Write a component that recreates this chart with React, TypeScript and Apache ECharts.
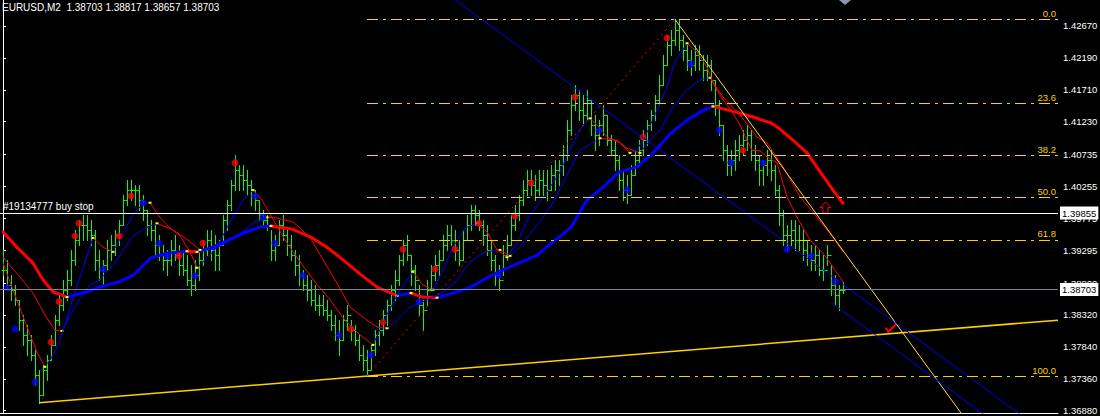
import React, { useEffect, useRef } from "react";
import * as echarts from "echarts";

const titleText = "EURUSD,M2  1.38703 1.38817 1.38657 1.38703";
const priceTicks = [1.4267, 1.4219, 1.4171, 1.4123, 1.40735, 1.40255, 1.39775, 1.39295, 1.388, 1.3832, 1.3784, 1.3736, 1.3688];

// OHLC bars (M2), index 0..210; open of a bar = close of previous bar
const highs = [
  1.3930, 1.3915, 1.3892, 1.3877, 1.3855, 1.3832, 1.3817, 1.3802, 1.3779, 1.3749,
  1.3757, 1.3772, 1.3802, 1.3832, 1.3862, 1.3885, 1.3900, 1.3930, 1.3960, 1.3975,
  1.3982, 1.3982, 1.3975, 1.3960, 1.3930, 1.3915, 1.3945, 1.3952, 1.3960, 1.3975,
  1.4013, 1.4035, 1.4035, 1.4028, 1.4028, 1.4013, 1.3990, 1.3975, 1.3967, 1.3952,
  1.3937, 1.3930, 1.3945, 1.3952, 1.3937, 1.3930, 1.3922, 1.3907, 1.3915, 1.3930,
  1.3945, 1.3960, 1.3960, 1.3952, 1.3945, 1.3982, 1.4005, 1.4035, 1.4073, 1.4058,
  1.4058, 1.4050, 1.4035, 1.4020, 1.4005, 1.3990, 1.3982, 1.3960, 1.3952, 1.3975,
  1.3982, 1.3960, 1.3952, 1.3930, 1.3922, 1.3900, 1.3892, 1.3885, 1.3877, 1.3862,
  1.3862, 1.3855, 1.3839, 1.3832, 1.3824, 1.3832, 1.3847, 1.3824, 1.3817, 1.3802,
  1.3787, 1.3779, 1.3787, 1.3809, 1.3824, 1.3839, 1.3855, 1.3877, 1.3900, 1.3922,
  1.3945, 1.3952, 1.3922, 1.3907, 1.3877, 1.3855, 1.3885, 1.3907, 1.3922, 1.3930,
  1.3952, 1.3967, 1.3967, 1.3960, 1.3945, 1.3960, 1.3982, 1.3998, 1.3998, 1.3990,
  1.3975, 1.3967, 1.3945, 1.3922, 1.3907, 1.3937, 1.3952, 1.3982, 1.3998, 1.4013,
  1.4035, 1.4050, 1.4050, 1.4043, 1.4050, 1.4050, 1.4050, 1.4058, 1.4065, 1.4065,
  1.4088, 1.4125, 1.4163, 1.4178, 1.4171, 1.4163, 1.4171, 1.4156, 1.4133, 1.4125,
  1.4148, 1.4133, 1.4103, 1.4095, 1.4073, 1.4050, 1.4043, 1.4058, 1.4080, 1.4095,
  1.4110, 1.4125, 1.4140, 1.4163, 1.4193, 1.4223, 1.4253, 1.4261, 1.4277, 1.4276,
  1.4253, 1.4238, 1.4231, 1.4238, 1.4238, 1.4223, 1.4223, 1.4216, 1.4186, 1.4156,
  1.4118, 1.4088, 1.4080, 1.4095, 1.4103, 1.4110, 1.4118, 1.4110, 1.4088, 1.4073,
  1.4065, 1.4080, 1.4080, 1.4058, 1.4028, 1.3990, 1.3967, 1.3975, 1.3975, 1.3967,
  1.3960, 1.3945, 1.3937, 1.3937, 1.3930, 1.3922, 1.3937, 1.3907, 1.3892, 1.3877,
  1.38817,
];
const lows = [
  1.3892, 1.3870, 1.3855, 1.3847, 1.3809, 1.3787, 1.3772, 1.3764, 1.3727, 1.3700,
  1.3712, 1.3734, 1.3764, 1.3787, 1.3817, 1.3839, 1.3855, 1.3877, 1.3907, 1.3937,
  1.3945, 1.3945, 1.3937, 1.3900, 1.3885, 1.3877, 1.3900, 1.3915, 1.3922, 1.3937,
  1.3967, 1.3998, 1.4005, 1.3998, 1.3990, 1.3975, 1.3952, 1.3945, 1.3922, 1.3915,
  1.3900, 1.3892, 1.3907, 1.3915, 1.3892, 1.3892, 1.3877, 1.3862, 1.3870, 1.3885,
  1.3907, 1.3922, 1.3915, 1.3900, 1.3900, 1.3937, 1.3960, 1.3990, 1.4020, 1.4020,
  1.4020, 1.4013, 1.3998, 1.3990, 1.3975, 1.3967, 1.3960, 1.3915, 1.3915, 1.3937,
  1.3945, 1.3922, 1.3915, 1.3892, 1.3877, 1.3870, 1.3855, 1.3847, 1.3839, 1.3832,
  1.3832, 1.3824, 1.3809, 1.3794, 1.3772, 1.3794, 1.3809, 1.3794, 1.3787, 1.3764,
  1.3749, 1.3740, 1.3749, 1.3772, 1.3787, 1.3802, 1.3817, 1.3839, 1.3855, 1.3877,
  1.3907, 1.3915, 1.3877, 1.3870, 1.3832, 1.3809, 1.3847, 1.3870, 1.3885, 1.3892,
  1.3915, 1.3930, 1.3937, 1.3915, 1.3907, 1.3915, 1.3945, 1.3960, 1.3967, 1.3960,
  1.3937, 1.3922, 1.3900, 1.3877, 1.3870, 1.3892, 1.3915, 1.3937, 1.3960, 1.3975,
  1.3998, 1.4013, 1.4013, 1.4005, 1.4013, 1.4013, 1.4005, 1.4020, 1.4020, 1.4028,
  1.4043, 1.4065, 1.4103, 1.4140, 1.4125, 1.4118, 1.4125, 1.4103, 1.4080, 1.4088,
  1.4103, 1.4088, 1.4073, 1.4050, 1.4020, 1.4005, 1.4001, 1.4013, 1.4043, 1.4058,
  1.4073, 1.4088, 1.4110, 1.4125, 1.4148, 1.4178, 1.4208, 1.4223, 1.4238, 1.4231,
  1.4216, 1.4201, 1.4193, 1.4201, 1.4201, 1.4186, 1.4186, 1.4171, 1.4133, 1.4103,
  1.4065, 1.4043, 1.4043, 1.4050, 1.4065, 1.4073, 1.4080, 1.4065, 1.4050, 1.4028,
  1.4028, 1.4043, 1.4035, 1.4013, 1.3967, 1.3937, 1.3930, 1.3937, 1.3930, 1.3930,
  1.3915, 1.3907, 1.3900, 1.3900, 1.3892, 1.3885, 1.3907, 1.3862, 1.3847, 1.3839,
  1.38657,
];
const closes = [
  1.3900, 1.3877, 1.3870, 1.3855, 1.3824, 1.3802, 1.3794, 1.3772, 1.3742, 1.3712,
  1.3749, 1.3764, 1.3787, 1.3824, 1.3847, 1.3870, 1.3885, 1.3915, 1.3945, 1.3967,
  1.3967, 1.3960, 1.3952, 1.3915, 1.3900, 1.3907, 1.3930, 1.3937, 1.3952, 1.3967,
  1.4005, 1.4020, 1.4020, 1.4020, 1.4005, 1.3990, 1.3967, 1.3960, 1.3937, 1.3922,
  1.3915, 1.3915, 1.3930, 1.3922, 1.3907, 1.3900, 1.3885, 1.3877, 1.3892, 1.3915,
  1.3930, 1.3945, 1.3930, 1.3922, 1.3937, 1.3975, 1.3998, 1.4028, 1.4050, 1.4043,
  1.4035, 1.4028, 1.4013, 1.4005, 1.3982, 1.3975, 1.3967, 1.3930, 1.3937, 1.3967,
  1.3952, 1.3937, 1.3922, 1.3907, 1.3892, 1.3877, 1.3870, 1.3855, 1.3847, 1.3847,
  1.3839, 1.3832, 1.3817, 1.3802, 1.3794, 1.3824, 1.3832, 1.3809, 1.3794, 1.3772,
  1.3764, 1.3749, 1.3779, 1.3802, 1.3809, 1.3832, 1.3847, 1.3870, 1.3885, 1.3915,
  1.3937, 1.3922, 1.3900, 1.3885, 1.3847, 1.3839, 1.3870, 1.3892, 1.3907, 1.3915,
  1.3937, 1.3952, 1.3945, 1.3930, 1.3915, 1.3945, 1.3967, 1.3990, 1.3982, 1.3967,
  1.3952, 1.3930, 1.3915, 1.3892, 1.3885, 1.3922, 1.3937, 1.3967, 1.3982, 1.4005,
  1.4020, 1.4035, 1.4028, 1.4020, 1.4035, 1.4028, 1.4020, 1.4043, 1.4050, 1.4058,
  1.4073, 1.4110, 1.4148, 1.4163, 1.4140, 1.4133, 1.4156, 1.4118, 1.4103, 1.4118,
  1.4133, 1.4095, 1.4080, 1.4065, 1.4035, 1.4020, 1.4013, 1.4043, 1.4065, 1.4080,
  1.4095, 1.4118, 1.4133, 1.4156, 1.4178, 1.4208, 1.4238, 1.4246, 1.4261, 1.4246,
  1.4231, 1.4216, 1.4208, 1.4223, 1.4216, 1.4201, 1.4208, 1.4186, 1.4148, 1.4118,
  1.4080, 1.4058, 1.4065, 1.4080, 1.4088, 1.4095, 1.4103, 1.4080, 1.4065, 1.4050,
  1.4058, 1.4065, 1.4050, 1.4020, 1.3982, 1.3952, 1.3952, 1.3960, 1.3945, 1.3945,
  1.3930, 1.3922, 1.3915, 1.3922, 1.3900, 1.3900, 1.3922, 1.3877, 1.3862, 1.3870,
  1.38703,
];

// Moving averages [barIndex, price] (red when falling, blue when rising)
const slowMA = [
  [0, 1.3957], [3.5, 1.3934], [7.5, 1.3910], [10, 1.3885], [12.5, 1.3867], [16, 1.3859],
  [21, 1.3867], [24, 1.3874], [29, 1.3882], [32.5, 1.3892], [37, 1.3918], [41, 1.3925],
  [46, 1.3928], [48.5, 1.3927], [52.5, 1.3934], [60, 1.3955], [64, 1.3964], [67, 1.3966],
  [72.5, 1.3961], [77, 1.3949], [81, 1.3934], [85, 1.3915], [89, 1.3895], [93.5, 1.3874],
  [98.5, 1.3861], [102, 1.3865], [105, 1.3859], [108.5, 1.3858], [112.5, 1.3865], [117, 1.3874],
  [121, 1.3888], [125, 1.3900], [129, 1.3910], [133.5, 1.3922], [137.5, 1.3942], [142, 1.3964],
  [146, 1.4005], [150, 1.4024], [154, 1.4047], [158.5, 1.4055], [162.5, 1.4076], [167, 1.4106],
  [171, 1.4125], [175, 1.4140], [177.5, 1.4146], [183.5, 1.4137], [187.5, 1.4130], [192, 1.4121],
  [194, 1.4113], [197.5, 1.4095], [201, 1.4076], [204, 1.4050], [207.5, 1.4020], [210, 1.4000],
];
const midMA = [
  [0, 1.3919], [4.25, 1.3889], [7.5, 1.3865], [10.5, 1.3832], [13, 1.3809], [14.75, 1.3808],
  [18.5, 1.3850], [21.75, 1.3877], [24.25, 1.3885], [28.5, 1.3915], [32.5, 1.3951], [36, 1.3964],
  [38.5, 1.3970], [42.5, 1.3960], [46, 1.3946], [49.25, 1.3930], [52.5, 1.3931], [55.5, 1.3939],
  [59.25, 1.3955], [63, 1.3972], [66, 1.3979], [68.5, 1.3978], [72.5, 1.3972], [76.75, 1.3949],
  [80, 1.3915], [83.5, 1.3880], [86.75, 1.3844], [91, 1.3824], [93.5, 1.3814], [96, 1.3812],
  [98, 1.3821], [101.75, 1.3844], [105.5, 1.3853], [109.25, 1.3864], [113, 1.3880], [116.75, 1.3912],
  [120.5, 1.3927], [124.25, 1.3930], [126.75, 1.3921], [129.25, 1.3934], [133.5, 1.3967], [137.5, 1.4001],
  [141, 1.4043], [144.25, 1.4080], [149.25, 1.4098], [153.5, 1.4095], [156, 1.4083], [159.25, 1.4076],
  [161.75, 1.4095], [164.25, 1.4110], [167.5, 1.4145], [171, 1.4171], [174.25, 1.4186], [176.75, 1.4189],
  [180, 1.4160], [184.25, 1.4133], [188.5, 1.4100], [191, 1.4091], [195, 1.4055], [199.25, 1.4010],
  [203.5, 1.3979], [207.5, 1.3949], [210, 1.3927],
];
const fastMA = [
  [0, 1.3910], [3, 1.3862], [6, 1.3814], [8.5, 1.3776], [10.5, 1.3754], [13, 1.3776],
  [15.5, 1.3817], [18, 1.3867], [20.5, 1.3912], [22.5, 1.3948], [25, 1.3934], [27.5, 1.3927],
  [30, 1.3955], [32.5, 1.3984], [35, 1.3999], [36.75, 1.4001], [39.25, 1.3979], [41.75, 1.3963],
  [44.25, 1.3951], [46.75, 1.3927], [48.5, 1.3903], [51, 1.3918], [53.5, 1.3934], [56.75, 1.3972],
  [60, 1.4005], [62.5, 1.4020], [64.75, 1.4005], [67.25, 1.3979], [70.5, 1.3945], [74.25, 1.3912],
  [78, 1.3882], [81.75, 1.3855], [85.5, 1.3824], [89.25, 1.3802], [92.5, 1.3787], [95.5, 1.3827],
  [99.25, 1.3870], [102.5, 1.3897], [105, 1.3877], [107.5, 1.3870], [110, 1.3900], [112.5, 1.3934],
  [115.5, 1.3963], [118.5, 1.3970], [121, 1.3957], [123.5, 1.3930], [126, 1.3919], [128.5, 1.3940],
  [131.75, 1.3982], [135.5, 1.4013], [139.25, 1.4047], [142.25, 1.4088], [145, 1.4118], [146.75, 1.4128],
  [149.25, 1.4113], [151, 1.4100], [154.25, 1.4091], [156.75, 1.4076], [158.5, 1.4080], [161, 1.4107],
  [163.5, 1.4140], [166, 1.4175], [168, 1.4213], [171, 1.4241], [173.5, 1.4228], [176, 1.4205],
  [178, 1.4175], [180, 1.4156], [182.5, 1.4136], [184.25, 1.4118], [186, 1.4095], [187.25, 1.4080],
  [189.25, 1.4079], [191, 1.4070], [193.5, 1.4061], [196, 1.4010], [198.5, 1.3979], [201.75, 1.3945],
  [205, 1.3925], [207.5, 1.3904], [210, 1.3882],
];

const redDots = [
  [12, 1.3791], [14, 1.3852], [18, 1.3951], [19, 1.3970], [29, 1.3951], [32, 1.4011], [44, 1.3921],
  [50, 1.3940], [58, 1.4061], [87, 1.3811], [95, 1.3821], [100, 1.3931], [108, 1.3901], [113, 1.3931],
  [119, 1.3970], [128, 1.3981], [132, 1.4031], [143, 1.4160], [160, 1.4100], [166, 1.4249], [185, 1.4080],
];
const blueDots = [
  [-1, 1.3891], [1, 1.3873], [3, 1.3811], [8, 1.3731], [25, 1.3901], [35, 1.4001], [39, 1.3940],
  [41, 1.3921], [48, 1.3891], [63, 1.4011], [65, 1.3979], [68, 1.3940], [75, 1.3891], [84, 1.3802],
  [92, 1.3772], [104, 1.3852], [124, 1.3892], [149, 1.4110], [156, 1.4020], [172, 1.4210], [179, 1.4110],
  [182, 1.4061], [190, 1.4061], [196, 1.3931], [202, 1.3921], [208, 1.3882],
];

const fibLevels = [0, 23.6, 38.2, 50, 61.8, 100];
const fibHigh = [168, 1.4277];
const fibLow = [91, 1.374];
const supportAnchors = [[9, 1.37], [91, 1.374]];
const resistAnchors = [[168, 1.4277], [210, 1.3929]];
const channelAnchors = [[143, 1.4174], [210, 1.3878]];
const channelParallelStart = [207, 1.3851];
const buyStopPrice = 1.39855;
const buyStopLabel = "#19134777 buy stop";
const bidPrice = 1.38703;
const arrowUpAt = [205.6, 1.4002];
const checkAt = [221.3, 1.3807];

const X_MIN = -0.75;
const X_MAX = 263.75;
const Y_MIN = 1.36845;
const Y_MAX = 1.43061;

const FONT = "Liberation Sans";
const GOLD = "#FFD000";
const RED = "#FF0000";
const BLUE = "#0000FF";

function ray(a: number[], b: number[], x0: number, x1: number) {
  const k = (b[1] - a[1]) / (b[0] - a[0]);
  return [[x0, a[1] + k * (x0 - a[0])], [x1, a[1] + k * (x1 - a[0])]];
}

function segments(pts: number[][]) {
  const out: number[][] = [];
  for (let k = 0; k < pts.length - 1; k++) {
    const prev = k > 0 ? Math.sign(pts[k][1] - pts[k - 1][1]) : 0;
    out.push([pts[k][0], pts[k][1], pts[k + 1][0], pts[k + 1][1], prev]);
  }
  return out;
}

function maSeries(pts: number[][], width: number) {
  return {
    type: "custom",
    clip: true,
    encode: { x: [0, 2], y: [1, 3] },
    data: segments(pts),
    renderItem: (_p: any, api: any) => {
      const y0 = api.value(1);
      const y1 = api.value(3);
      const a = api.coord([api.value(0), y0]);
      const b = api.coord([api.value(2), y1]);
      const up = y1 >= y0;
      const children: any[] = [
        {
          type: "line",
          shape: { x1: a[0], y1: a[1], x2: b[0], y2: b[1] },
          style: { stroke: up ? BLUE : RED, lineWidth: width, lineCap: "round" },
        },
      ];
      const prev = api.value(4);
      if (prev !== 0 && (prev > 0) !== up) {
        children.push({
          type: "rect",
          shape: { x: a[0] - 1.5, y: a[1] - 1, width: 3, height: 2 },
          style: { fill: "#FFFF00" },
        });
      }
      return { type: "group", children };
    },
  };
}

export default function App() {
  const ref = useRef<HTMLDivElement>(null);
  useEffect(() => {
    document.body.style.margin = "0";
    document.body.style.background = "#000";
    if (!ref.current) return;
    const chart = echarts.init(ref.current, undefined, { renderer: "svg" });

    const bars = highs.map((h, i) => [i, i === 0 ? closes[0] : closes[i - 1], h, lows[i], closes[i]]);
    const fibRange = fibHigh[1] - fibLow[1];
    const fibData = fibLevels.map((lv) => {
      const p = fibHigh[1] - (fibRange * lv) / 100;
      return [
        { coord: [fibLow[0], p], label: { formatter: lv.toFixed(1) } },
        { coord: [X_MAX, p] },
      ];
    });
    const boxLabel = (txt: string) => ({
      show: true,
      position: "end",
      distance: 2,
      formatter: txt,
      color: "#000",
      backgroundColor: "#FFFFFF",
      padding: [2, 2, 1, 2],
      fontSize: 9.5,
      fontFamily: FONT,
    });
    const chanSlope = (channelAnchors[1][1] - channelAnchors[0][1]) / (channelAnchors[1][0] - channelAnchors[0][0]);
    const chan2End = [X_MAX, channelParallelStart[1] + chanSlope * (X_MAX - channelParallelStart[0])];

    chart.setOption({
      animation: false,
      backgroundColor: "#000000",
      title: {
        text: titleText,
        left: 2,
        top: 2,
        padding: 0,
        textStyle: { color: "#FFFFFF", fontSize: 10, fontWeight: "normal", fontFamily: FONT },
      },
      grid: { left: 0, right: 42, top: 0, bottom: 3, containLabel: false, outerBoundsMode: "none" },
      xAxis: {
        type: "value",
        min: X_MIN,
        max: X_MAX,
        axisLine: { show: true, lineStyle: { color: "#FFFFFF", width: 1 } },
        axisTick: { show: false },
        axisLabel: { show: false },
        splitLine: { show: false },
      },
      yAxis: {
        type: "value",
        position: "right",
        min: Y_MIN,
        max: Y_MAX,
        scale: true,
        axisLine: { show: true, lineStyle: { color: "#FFFFFF", width: 1 } },
        axisTick: { show: true, length: 3, customValues: priceTicks, lineStyle: { color: "#FFFFFF" } },
        axisLabel: {
          show: true,
          customValues: priceTicks,
          margin: 5,
          color: "#FFFFFF",
          fontSize: 9.5,
          fontFamily: FONT,
          formatter: (v: number) => v.toFixed(5),
        },
        splitLine: { show: false },
      },
      graphic: [
        {
          type: "polygon",
          shape: { points: [[839, 0], [851, 0], [845, 5]] },
          style: { fill: "#8C96A8" },
        },
      ],
      series: [
        {
          type: "custom",
          clip: true,
          encode: { x: 0, y: [1, 2, 3, 4] },
          data: bars,
          renderItem: (_p: any, api: any) => {
            const i = api.value(0);
            const top = api.coord([i, api.value(2)]);
            const bot = api.coord([i, api.value(3)]);
            const px = Math.round(top[0]) + 0.5;
            const yO = Math.round(api.coord([i, api.value(1)])[1]) + 0.5;
            const yC = Math.round(api.coord([i, api.value(4)])[1]) + 0.5;
            const st = { stroke: "#00FF00", lineWidth: 1 };
            return {
              type: "group",
              children: [
                { type: "line", shape: { x1: px, y1: Math.round(top[1]), x2: px, y2: Math.round(bot[1]) + 1 }, style: st },
                { type: "line", shape: { x1: px - 2, y1: yO, x2: px, y2: yO }, style: st },
                { type: "line", shape: { x1: px, y1: yC, x2: px + 2, y2: yC }, style: st },
              ],
            };
          },
        },
        maSeries(slowMA, 3),
        maSeries(midMA, 1),
        maSeries(fastMA, 1),
        {
          type: "scatter",
          data: redDots,
          symbol: "circle",
          symbolSize: 7,
          itemStyle: { color: RED },
          silent: true,
        },
        {
          type: "scatter",
          data: blueDots,
          symbol: "circle",
          symbolSize: 7,
          itemStyle: { color: BLUE },
          silent: true,
        },
        {
          type: "line",
          data: ray(supportAnchors[0], supportAnchors[1], supportAnchors[0][0], X_MAX),
          showSymbol: false,
          clip: true,
          lineStyle: { color: GOLD, width: 1.5 },
          silent: true,
        },
        {
          type: "line",
          data: ray(resistAnchors[0], resistAnchors[1], resistAnchors[0][0], X_MAX),
          showSymbol: false,
          clip: true,
          lineStyle: { color: "#FFE030", width: 1 },
          silent: true,
        },
        {
          type: "line",
          data: ray(channelAnchors[0], channelAnchors[1], 100, X_MAX),
          showSymbol: false,
          clip: true,
          lineStyle: { color: BLUE, width: 1 },
          silent: true,
        },
        {
          type: "line",
          data: [channelParallelStart, chan2End],
          showSymbol: false,
          clip: true,
          lineStyle: { color: BLUE, width: 1 },
          silent: true,
        },
        {
          type: "line",
          data: [fibLow, fibHigh],
          showSymbol: false,
          clip: true,
          lineStyle: { color: RED, width: 1, type: [2, 4] },
          silent: true,
          markLine: {
            silent: true,
            precision: 5,
            symbol: ["none", "none"],
            lineStyle: { color: GOLD, width: 1, type: [11, 5, 3, 5] },
            label: {
              show: true,
              position: "insideEndTop",
              color: GOLD,
              fontSize: 9.5,
              fontFamily: FONT,
              distance: [2, 1],
            },
            data: fibData,
          },
        },
        {
          type: "line",
          data: [],
          silent: true,
          markLine: {
            silent: true,
            precision: 5,
            symbol: ["none", "none"],
            data: [
              {
                yAxis: buyStopPrice,
                lineStyle: { color: "#FFFFFF", width: 1, type: "solid" },
                label: boxLabel(buyStopPrice.toFixed(5)),
              },
              {
                yAxis: buyStopPrice,
                lineStyle: { color: "#FFFFFF", width: 1, type: "solid" },
                label: {
                  show: true,
                  position: "insideStartTop",
                  distance: [3, 2],
                  formatter: buyStopLabel,
                  color: "#FFFFFF",
                  fontSize: 10,
                  fontFamily: FONT,
                },
              },
              {
                yAxis: bidPrice,
                lineStyle: { color: "#778899", width: 1, type: "solid" },
                label: boxLabel(bidPrice.toFixed(5)),
              },
            ],
          },
        },
        {
          type: "custom",
          clip: true,
          encode: { x: 0, y: 1 },
          data: [
            [arrowUpAt[0], arrowUpAt[1], 0],
            [checkAt[0], checkAt[1], 1],
          ],
          renderItem: (_p: any, api: any) => {
            const c = api.coord([api.value(0), api.value(1)]);
            const x = c[0];
            const y = c[1];
            if (api.value(2) === 0) {
              const rel = [[0, 0], [-5.5, 5.5], [-2.5, 5.5], [-2.5, 11], [2.5, 11], [2.5, 5.5], [5.5, 5.5]];
              return {
                type: "polygon",
                shape: { points: rel.map((r) => [x + r[0], y + r[1]]) },
                style: { stroke: RED, fill: "none", lineWidth: 1 },
              };
            }
            const rel = [[-2.5, -4], [0, 0], [8.5, -7.5]];
            return {
              type: "polyline",
              shape: { points: rel.map((r) => [x + r[0], y + r[1]]) },
              style: { stroke: RED, fill: "none", lineWidth: 2 },
            };
          },
        },
      ],
    });
    return () => chart.dispose();
  }, []);
  return <div ref={ref} style={{ width: 1100, height: 416, background: "#000" }} />;
}
